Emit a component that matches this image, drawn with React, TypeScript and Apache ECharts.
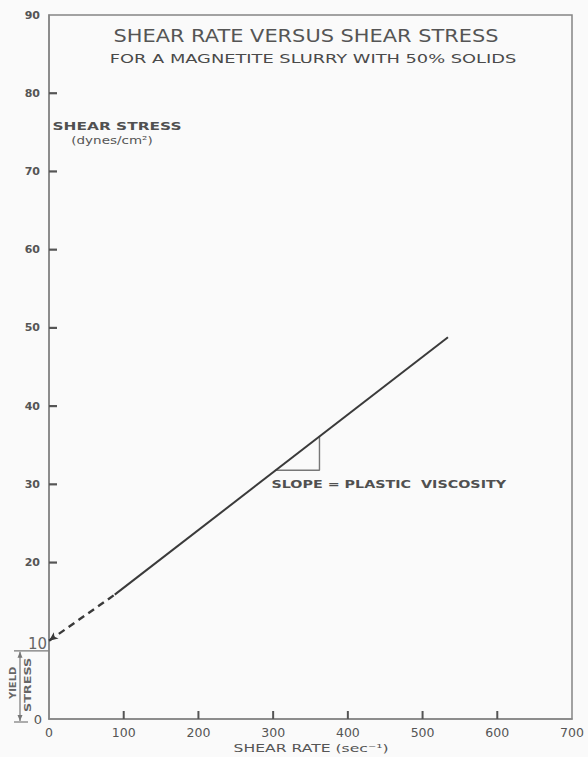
import React, { useEffect, useRef } from "react";
import * as echarts from "echarts";

// Bingham plastic flow curve: shear stress (dynes/cm²) against shear rate (sec⁻¹)
const YIELD_STRESS = 10;
const RATE_EXTRAPOLATED = [0, 88];
const STRESS_EXTRAPOLATED = [YIELD_STRESS, 15.9];
const RATE_MEASURED = [88, 534];
const STRESS_MEASURED = [15.9, 48.8];
// slope triangle drawn against the measured line
const SLOPE_RATE = [303, 362, 362];
const SLOPE_STRESS = [31.8, 31.8, 36.1];

const X_TICKS = [100, 200, 300, 400, 500, 600];
const Y_TICKS = [20, 30, 40, 50, 60, 70, 80];

const TITLE = "SHEAR RATE VERSUS SHEAR STRESS";
const SUBTITLE = "FOR A MAGNETITE SLURRY WITH 50% SOLIDS";
const Y_NAME = "SHEAR STRESS";
const Y_UNIT = "(dynes/cm²)";
const X_NAME = "SHEAR RATE (sec⁻¹)";
const SLOPE_LABEL = "SLOPE = PLASTIC  VISCOSITY";

const INK = "#3a3a3a";
const PEN = "#555";
const AXIS = "#858585";
const FONT = "DejaVu Sans";

export default function App() {
  const ref = useRef<HTMLDivElement>(null);

  useEffect(() => {
    if (!ref.current) return;
    const chart = echarts.init(ref.current, null, { renderer: "svg" });

    const pair = (xs: number[], ys: number[]) => xs.map((x, i) => [x, ys[i]]);
    const extrapolated: any[] = pair(RATE_EXTRAPOLATED, STRESS_EXTRAPOLATED);
    extrapolated[0] = {
      value: extrapolated[0],
      symbol: "arrow",
      symbolSize: [6, 9],
      symbolRotate: 127,
      itemStyle: { color: INK },
    };

    chart.setOption({
      animation: false,
      backgroundColor: "#fafafa",
      grid: {
        left: 49,
        right: 16,
        top: 15,
        bottom: 38,
        show: true,
        borderColor: AXIS,
        borderWidth: 1.5,
        backgroundColor: "transparent",
      },
      xAxis: {
        type: "value",
        min: 0,
        max: 700,
        interval: 100,
        splitLine: { show: false },
        axisLine: { lineStyle: { color: AXIS, width: 1.5 } },
        axisTick: { show: false },
        axisLabel: {
          margin: 7,
          color: PEN,
          fontFamily: FONT,
          fontSize: 12.5,
        },
      },
      yAxis: {
        type: "value",
        min: 0,
        max: 90,
        interval: 10,
        splitLine: { show: false },
        axisLine: { lineStyle: { color: AXIS, width: 1.5 } },
        axisTick: { show: false },
        axisLabel: {
          margin: 1,
          formatter: (v: number) =>
            v === YIELD_STRESS ? `{big|${v}}` : v === 0 ? `{mid|${v}}` : `{n|${v}}`,
          rich: {
            n: {
              fontFamily: FONT,
              fontSize: 11,
              fontWeight: "bold",
              color: PEN,
              padding: [0, 8, 0, 0],
            },
            big: { fontFamily: FONT, fontSize: 15, color: "#666", padding: [6, 1, 0, 0] },
            mid: { fontFamily: FONT, fontSize: 13, color: "#555", padding: [0, 6, 0, 0] },
          },
        },
      },
      series: [
        {
          type: "line",
          data: extrapolated,
          showSymbol: true,
          symbol: "none",
          lineStyle: { color: INK, width: 2.4, type: [7, 5] },
          z: 3,
        },
        {
          type: "line",
          data: pair(RATE_MEASURED, STRESS_MEASURED),
          symbol: "none",
          lineStyle: { color: INK, width: 2 },
          z: 3,
        },
        {
          type: "line",
          data: pair(SLOPE_RATE, SLOPE_STRESS),
          symbol: "none",
          lineStyle: { color: "#777", width: 1.4 },
          z: 2,
        },
      ],
    });

    const px = (v: number) => chart.convertToPixel({ xAxisIndex: 0 }, v) as number;
    const py = (v: number) => chart.convertToPixel({ yAxisIndex: 0 }, v) as number;
    const y0 = py(0);
    const yYield = py(YIELD_STRESS);
    const axisX = px(0);

    const txt = (
      text: string,
      x: number,
      y: number,
      size: number,
      scaleX: number,
      opts: any = {}
    ) => ({
      type: "text",
      x,
      y,
      scaleX,
      rotation: opts.rotation || 0,
      style: {
        text,
        fontFamily: FONT,
        fontSize: size,
        fontWeight: opts.weight || "normal",
        fill: opts.fill || PEN,
        align: opts.align || "center",
        verticalAlign: "middle",
      },
      z: 10,
    });

    const gray = { stroke: "#777", lineWidth: 1.2 };
    const bracketX = 20;

    // short inward tick marks on both axes
    const ticks = [
      ...X_TICKS.map((v) => ({
        type: "rect",
        shape: { x: px(v) - 1, y: y0 - 8, width: 2, height: 8 },
        style: { fill: PEN },
        z: 5,
      })),
      ...Y_TICKS.map((v) => ({
        type: "rect",
        shape: { x: axisX, y: py(v) - 1.1, width: 8, height: 2.2 },
        style: { fill: PEN },
        z: 5,
      })),
    ];

    chart.setOption({
      graphic: [
        ...ticks,
        txt(TITLE, 306, 36, 17, 1.23),
        txt(SUBTITLE, 313, 59, 13, 1.37, { fill: "#4a4a4a" }),
        txt(Y_NAME, 117, 126, 11, 1.4, { weight: "bold", fill: "#505050" }),
        txt(Y_UNIT, 112, 141, 10, 1.35, { fill: "#555" }),
        txt(X_NAME, 311, 748, 11, 1.42, { fill: "#555" }),
        txt(SLOPE_LABEL, px(SLOPE_RATE[0]) - 4, py(SLOPE_STRESS[0]) + 14, 11, 1.3, {
          align: "left",
          weight: "bold",
          fill: "#505050",
        }),
        // yield stress bracket between zero and the intercept
        {
          type: "line",
          shape: { x1: 14, y1: yYield + 10, x2: axisX, y2: yYield + 10 },
          style: gray,
        },
        {
          type: "line",
          shape: { x1: 14, y1: y0 + 3, x2: 28, y2: y0 + 3 },
          style: gray,
        },
        {
          type: "line",
          shape: { x1: bracketX, y1: yYield + 11, x2: bracketX, y2: y0 + 2 },
          style: gray,
        },
        {
          type: "polygon",
          shape: {
            points: [
              [bracketX, yYield + 11],
              [bracketX - 2.5, yYield + 17],
              [bracketX + 2.5, yYield + 17],
            ],
          },
          style: { fill: "#777" },
        },
        {
          type: "polygon",
          shape: {
            points: [
              [bracketX, y0 + 2],
              [bracketX - 2.5, y0 - 4],
              [bracketX + 2.5, y0 - 4],
            ],
          },
          style: { fill: "#777" },
        },
        txt("YIELD", 13, (yYield + y0) / 2 + 3, 8, 1.25, {
          rotation: Math.PI / 2,
          weight: "bold",
          fill: "#666",
        }),
        txt("STRESS", 28, (yYield + y0) / 2 + 5, 8, 1.6, {
          rotation: Math.PI / 2,
          weight: "bold",
          fill: "#666",
        }),
      ],
    });

    return () => chart.dispose();
  }, []);

  return (
    <div
      ref={ref}
      style={{ position: "fixed", left: 0, top: 0, width: 588, height: 757 }}
    />
  );
}
